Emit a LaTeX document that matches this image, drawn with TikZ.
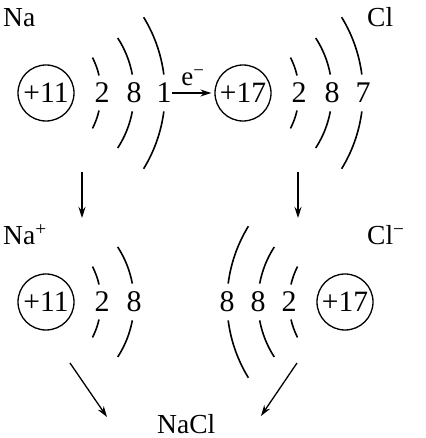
\documentclass[tikz,border=0pt]{standalone}
\usepackage{fontspec}
\setmainfont{Liberation Serif}
\usetikzlibrary{arrows.meta}

\tikzset{
  nucleus/.style={draw, circle, line width=1.3pt, minimum size=56pt, inner sep=0pt,
    font=\fontsize{29.5}{34}\selectfont},
  digit/.style={inner sep=0pt, font=\fontsize{30}{34}\selectfont},
  label/.style={inner sep=0pt, anchor=base west, font=\fontsize{27.5}{32}\selectfont},
  shell/.style={line width=1.6pt},
  move/.style={->, line width=1.3pt}
}

\begin{document}
\begin{tikzpicture}[x=1pt, y=1pt, >={Stealth[length=11pt, width=7pt]}]
    \useasboundingbox (0,0) rectangle (425,438);
    % Atoms
    \node[label] (lna) at (3,411) {Na};
    \node[label] (lcl) at (367,411) {Cl};
    \node[nucleus] (na) at (46,345) {+11};
    \node[digit] (na2) at (102,345) {2};
    \node[digit] (na8) at (134,345) {8};
    \node[digit] (na1) at (164,345) {1};
    \node[nucleus] (cl) at (243,345) {+17};
    \node[digit] (cl2) at (299,345) {2};
    \node[digit] (cl8) at (332,345) {8};
    \node[digit] (cl7) at (363,345) {7};
    \foreach \xr in {101,299} {
        \foreach \r/\g/\a/\dx in {78/13/27/0, 101/10.5/33/33, 145/7.3/31.5/64} {
            \draw[shell] (\xr+\dx-\r,345) ++(\g:\r) arc[start angle=\g, end angle=\a, radius=\r];
            \draw[shell] (\xr+\dx-\r,345) ++(-\g:\r) arc[start angle=-\g, end angle=-\a, radius=\r];
        }
    }
    % Electron transfer
    \draw[move, shorten >=3pt] (na1.east) -- node[above=3pt, font=\fontsize{27}{30}\selectfont] {e\textsuperscript{−}} (cl.west);
    % Ions
    \coordinate (down1) at (82,266);
    \coordinate (down1e) at (82,220);
    \coordinate (down2) at (298,266);
    \coordinate (down2e) at (298,220);
    \draw[move] (down1) -- (down1e);
    \draw[move] (down2) -- (down2e);
    \node[label] (lnai) at (3,193) {Na\textsuperscript{+}};
    \node[label] (lcli) at (367,193) {Cl\textsuperscript{−}};
    \node[nucleus] (nai) at (46,136) {+11};
    \node[digit] (nai2) at (102,136) {2};
    \node[digit] (nai8) at (134,136) {8};
    \foreach \xr/\r/\g/\a in {101/78/13/27, 134/101/10.5/33} {
        \draw[shell] (\xr-\r,136) ++(\g:\r) arc[start angle=\g, end angle=\a, radius=\r];
        \draw[shell] (\xr-\r,136) ++(-\g:\r) arc[start angle=-\g, end angle=-\a, radius=\r];
    }
    \node[nucleus] (cli) at (345,136) {+17};
    \node[digit] (cli2) at (289,136) {2};
    \node[digit] (cli8b) at (258,136) {8};
    \node[digit] (cli8a) at (227,136) {8};
    \foreach \xl/\r/\g/\a in {289/78/13/27, 258/101/10.5/33, 227/145/7.3/31.5} {
        \draw[shell] (\xl+\r,136) ++(180-\g:\r) arc[start angle=180-\g, end angle=180-\a, radius=\r];
        \draw[shell] (\xl+\r,136) ++(180+\g:\r) arc[start angle=180+\g, end angle=180+\a, radius=\r];
    }
    % Compound
    \node[label] (nacl) at (157,5) {NaCl};
    \coordinate (form1) at (70,75);
    \coordinate (form1e) at (107,21);
    \coordinate (form2) at (297,75);
    \coordinate (form2e) at (261,22);
    \draw[move] (form1) -- (form1e);
    \draw[move] (form2) -- (form2e);
\end{tikzpicture}
\end{document}
